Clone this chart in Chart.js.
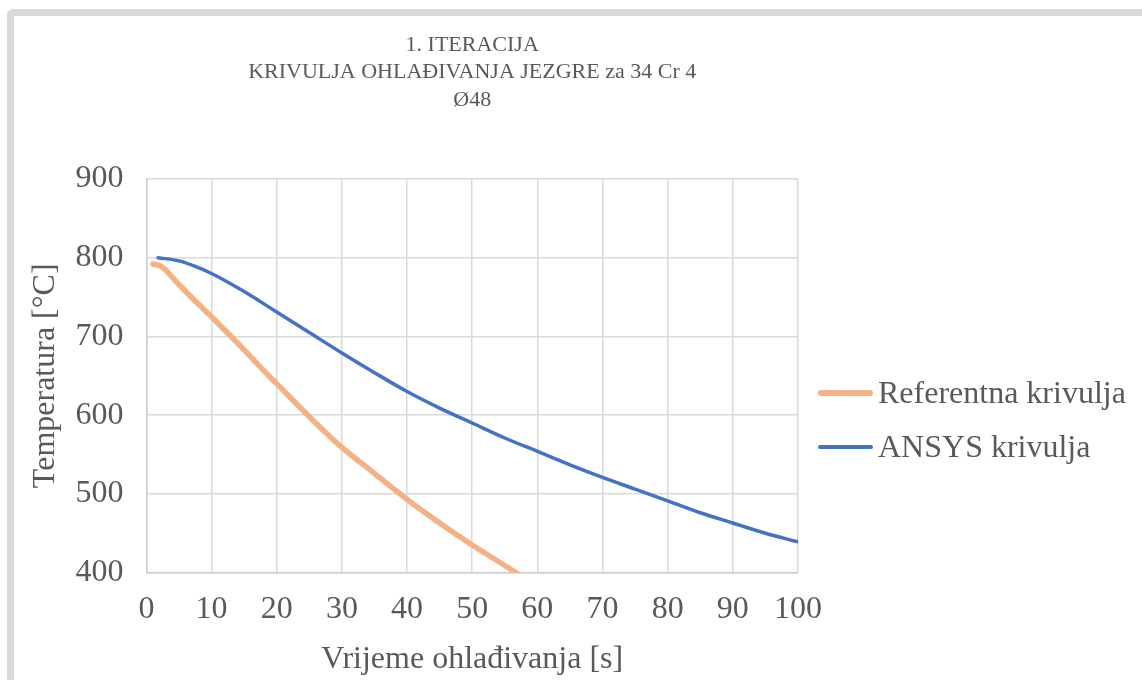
<!DOCTYPE html>
<html>
<head>
<meta charset="utf-8">
<script src="https://cdn.jsdelivr.net/npm/chart.js@4.4.1/dist/chart.umd.min.js"></script>
<style>
  body { margin: 0; background: #fff; width: 1142px; height: 680px; overflow: hidden; position: relative; }
  #frame { position: absolute; left: 7px; top: 9px; width: 1200px; height: 800px; border: 7px solid #d9d9d9; border-radius: 6px; }
  #wrap { position: absolute; left: 14px; top: 16px; width: 922px; height: 664px; }
  .leg { position: absolute; left: 818px; font-family: "Liberation Serif", "Times New Roman", serif; font-size: 32px; color: #595959; white-space: nowrap; }
  .leg span.ln { display: inline-block; width: 55px; border-radius: 3px; vertical-align: middle; margin-right: 5px; position: relative; top: -3px; }
</style>
</head>
<body>
<div id="frame"></div>
<div id="wrap"><canvas id="myChart"></canvas></div>
<div class="leg" style="top:374px"><span class="ln" style="height:6px;background:#F4B183"></span>Referentna krivulja</div>
<div class="leg" style="top:428px"><span class="ln" style="height:4px;background:#4472C4"></span>ANSYS krivulja</div>
<script>
// vrijednosti procitane sa slike
var refX = [1, 2, 3, 4, 5, 7.5, 10, 12.5, 15, 17.5, 20, 25, 30, 35, 40, 45, 50, 55, 58];
var refY = [792, 790, 784, 775, 766, 745, 725, 704, 683, 661, 640, 598, 559, 526, 493, 463, 435, 409, 393];

var ansysX = [1.8, 5, 7.5, 10, 15, 20, 25, 30, 35, 40, 45, 50, 55, 60, 65, 70, 75, 80, 85, 90, 95, 100];
var ansysY = [800, 796, 789, 780, 757, 731, 705, 679, 654, 630, 609, 590, 571, 554, 537, 521, 506, 491, 476, 463, 450, 439];

var titleLines = ["1. ITERACIJA", "KRIVULJA OHLAĐIVANJA JEZGRE za 34 Cr 4", "Ø48"];
var seriesNames = ["Referentna krivulja", "ANSYS krivulja"];

var fontFam = "'Liberation Serif', 'Times New Roman', serif";
var grey = "#595959";

function toPoints(xs, ys) {
    var pts = Array();
    for (var i = 0; i < xs.length; i++) {
        pts.push({x: xs[i], y: ys[i]});
    }
    return pts;
}

// naslov centriran iznad podrucja grafa (kao u Excelu)
var centerTitle = {
    id: 'centerTitle',
    afterDraw: function (chart) {
        var ctx = chart.ctx;
        var ca = chart.chartArea;
        var cx = (ca.left + ca.right) / 2;
        ctx.save();
        ctx.fillStyle = grey;
        ctx.font = "22px " + fontFam;
        ctx.textAlign = 'center';
        ctx.textBaseline = 'middle';
        for (var i = 0; i < titleLines.length; i++) {
            ctx.fillText(titleLines[i], cx, ca.top - 134 + i * 27.5);
        }
        ctx.restore();
    }
};

new Chart(document.getElementById('myChart'), {
    type: 'line',
    data: {
        datasets: [{
            label: seriesNames[0],
            data: toPoints(refX, refY),
            borderColor: '#F4B183',
            borderWidth: 5.5,
            borderCapStyle: 'round',
            pointRadius: 0,
            cubicInterpolationMode: 'monotone',
            clip: 0
        }, {
            label: seriesNames[1],
            data: toPoints(ansysX, ansysY),
            borderColor: '#4472C4',
            borderWidth: 3.5,
            borderCapStyle: 'round',
            pointRadius: 0,
            cubicInterpolationMode: 'monotone',
            clip: 0
        }]
    },
    plugins: [centerTitle],
    options: {
        responsive: true,
        maintainAspectRatio: false,
        animation: false,
        layout: { padding: { left: 4, right: 138, top: 163, bottom: 4 } },
        plugins: {
            legend: { display: false },
            tooltip: { enabled: false },
            title: { display: false }
        },
        scales: {
            x: {
                type: 'linear',
                min: 0,
                max: 100,
                ticks: { stepSize: 10, color: grey, padding: 10, font: { family: fontFam, size: 32 } },
                grid: { color: '#d9d9d9', lineWidth: 1.5, tickLength: 8, tickColor: 'rgba(0,0,0,0)' },
                border: { color: '#cfcfcf', width: 1.5 },
                title: {
                    display: true,
                    text: 'Vrijeme ohlađivanja [s]',
                    color: grey,
                    font: { family: fontFam, size: 32, lineHeight: 1.0 },
                    padding: { top: 5, bottom: 0 }
                }
            },
            y: {
                min: 400,
                max: 900,
                ticks: { stepSize: 100, color: grey, padding: 11, font: { family: fontFam, size: 32 } },
                grid: { color: '#d9d9d9', lineWidth: 1.5, tickLength: 12, tickColor: 'rgba(0,0,0,0)' },
                border: { color: '#cfcfcf', width: 1.5 },
                title: {
                    display: true,
                    text: 'Temperatura [°C]',
                    color: grey,
                    font: { family: fontFam, size: 32 },
                    padding: { top: 8, bottom: 0 }
                }
            }
        }
    }
});
</script>
</body>
</html>
